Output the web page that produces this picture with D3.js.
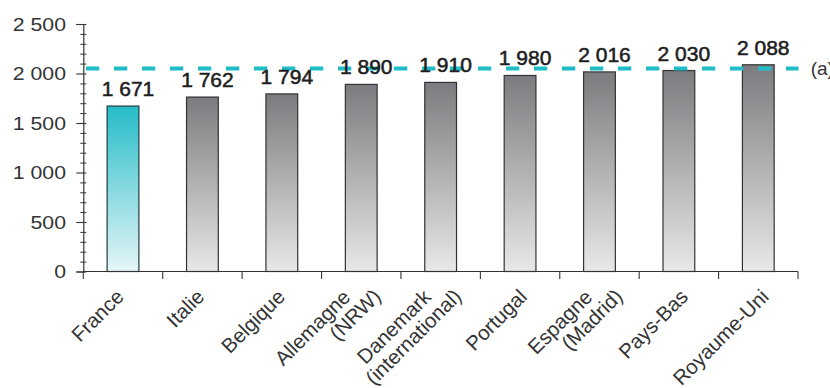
<!DOCTYPE html>
<html>
<head>
<meta charset="utf-8">
<script src="https://cdn.jsdelivr.net/npm/d3@7"></script>
<style>
  html, body { margin: 0; padding: 0; background: #fff; overflow: hidden; }
  svg { display: block; }
</style>
</head>
<body>
<svg id="chart" width="830" height="388"></svg>
<script>
// Categories (a "\n" splits a label over two lines)
const categories = [
  "France", "Italie", "Belgique", "Allemagne\n(NRW)", "Danemark\n(international)",
  "Portugal", "Espagne\n(Madrid)", "Pays-Bas", "Royaume-Uni"
];
const values = [1671, 1762, 1794, 1890, 1910, 1980, 2016, 2030, 2088];
const highlighted = ["France"];
const yTicks = [0, 500, 1000, 1500, 2000, 2500];
const yMinorStep = 100;
const referenceValue = 2050;
const referenceLabel = "(a)";

const fr = d3.formatLocale({ decimal: ",", thousands: "\u00a0", grouping: [3], currency: ["", " €"] });
const fmt = fr.format(",d");
const font = "'Liberation Sans', Arial, Helvetica, sans-serif";

const svg = d3.select("#chart");
const g = svg.append("g");

const x = d3.scaleBand()
  .domain(categories)
  .range([83.3, 798])
  .paddingInner(0.6)
  .paddingOuter(0.3);

// rotated category labels sit on a slightly wider spacing than the bars
const xLabel = d3.scalePoint().domain(categories).range([125, 770]);

const y = d3.scaleLinear().domain([0, 2500]).range([271.5, 24]);

// Gradients
const defs = svg.append("defs");
function grad(id, top, bottom) {
  const lg = defs.append("linearGradient").attr("id", id)
    .attr("x1", 0).attr("y1", 0).attr("x2", 0).attr("y2", 1);
  lg.append("stop").attr("offset", "0%").attr("stop-color", top);
  lg.append("stop").attr("offset", "100%").attr("stop-color", bottom);
}
grad("gGrey", "#7b7c7f", "#e8e8e9");
grad("gTeal", "#26bcc8", "#e6f6f7");

const data = categories.map((c, i) => ({ c, v: values[i] }));

// Bars
g.append("g").selectAll("rect").data(data).join("rect")
  .attr("x", d => x(d.c))
  .attr("width", x.bandwidth())
  .attr("y", d => y(d.v))
  .attr("height", d => y(0) - y(d.v))
  .attr("fill", d => highlighted.includes(d.c) ? "url(#gTeal)" : "url(#gGrey)")
  .attr("stroke", d => highlighted.includes(d.c) ? "#1f3c42" : "#333")
  .attr("stroke-width", 1.2);

// Y axis
const yAxis = d3.axisLeft(y)
  .tickValues(yTicks)
  .tickFormat(fmt)
  .tickSizeOuter(0)
  .tickSize(7);
const ya = g.append("g").attr("transform", "translate(83.3,0)").call(yAxis);
ya.select(".domain").attr("stroke", "#333").attr("stroke-width", 1.2);
ya.selectAll(".tick line").attr("x1", 3).attr("x2", -7).attr("stroke", "#333").attr("stroke-width", 1.1);
ya.selectAll(".tick text")
  .attr("x", 0)
  .attr("transform", "translate(-17.3,0) scale(1.12,1)")
  .attr("font-family", font).attr("font-size", 19).attr("fill", "#333");

// Minor ticks
const minor = d3.range(0, 2500 + 1, yMinorStep).filter(v => !yTicks.includes(v));
ya.append("g").selectAll("line").data(minor).join("line")
  .attr("x1", -3).attr("x2", 3)
  .attr("y1", d => y(d) + 0.5).attr("y2", d => y(d) + 0.5)
  .attr("stroke", "#333").attr("stroke-width", 1);

// X axis line and boundary ticks
const xa = g.append("g");
const x0 = x.range()[0], x1 = x.range()[1];
xa.append("line")
  .attr("x1", x0).attr("x2", x1)
  .attr("y1", y(0)).attr("y2", y(0))
  .attr("stroke", "#333").attr("stroke-width", 1.2);
const bounds = d3.range(categories.length + 1).map(i => x0 + i * x.step());
xa.selectAll(".bt").data(bounds).join("line")
  .attr("x1", d => d).attr("x2", d => d)
  .attr("y1", y(0)).attr("y2", y(0) + 7.5)
  .attr("stroke", "#333").attr("stroke-width", 1.1);

// Category labels, rotated
const lineShift = { along: 22, across: 21 };
const labels = g.append("g").selectAll("g").data(data).join("g")
  .attr("transform", d => `translate(${xLabel(d.c)},298) rotate(-45)`);
labels.each(function (d) {
  const lines = d.c.split("\n");
  const n = lines.length;
  d3.select(this).selectAll("text").data(lines).join("text")
    .attr("x", (t, k) => (k - (n - 1) / 2) * lineShift.along)
    .attr("y", (t, k) => (k - (n - 1) / 2) * lineShift.across)
    .attr("text-anchor", "end")
    .attr("font-family", font).attr("font-size", 20.5).attr("fill", "#333")
    .text(t => t);
});

// Reference dashed line
g.append("line")
  .attr("x1", 86).attr("x2", 798.5)
  .attr("y1", y(referenceValue)).attr("y2", y(referenceValue))
  .attr("stroke", "#1fbdc8").attr("stroke-width", 4)
  .attr("stroke-dasharray", "13.3,14.7");
g.append("text")
  .attr("x", 810.7).attr("y", y(referenceValue) + 6.5)
  .attr("font-family", font).attr("font-size", 19).attr("fill", "#333")
  .text(referenceLabel);

// Value labels
g.append("g").selectAll("text").data(data).join("text")
  .attr("x", d => x(d.c) + x.bandwidth() / 2 + 5)
  .attr("y", d => y(d.v) - 10)
  .attr("text-anchor", "middle")
  .attr("font-family", font).attr("font-size", 21)
  .attr("fill", "#1e1e1e")
  .attr("stroke", "#1e1e1e").attr("stroke-width", 0.55)
  .text(d => fmt(d.v));
</script>
</body>
</html>
